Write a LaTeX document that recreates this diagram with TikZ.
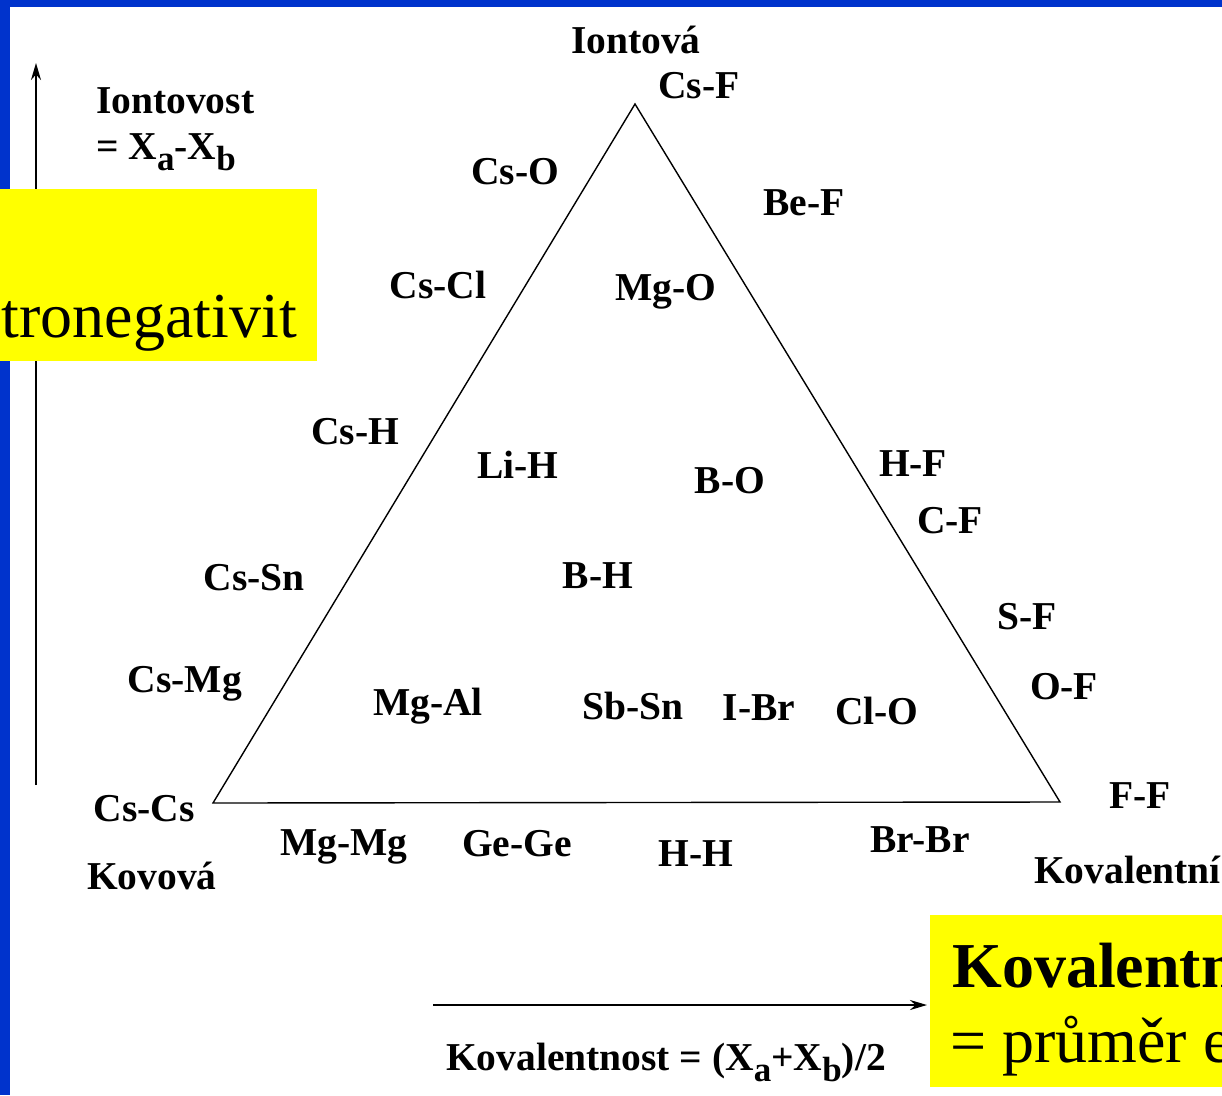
\documentclass[tikz,border=0pt]{standalone}
\usepackage{fontspec}
\setmainfont{Liberation Serif}
\usetikzlibrary{arrows.meta}
\definecolor{bord}{RGB}{0,51,204}
\definecolor{hl}{RGB}{255,255,0}
\newcommand{\lowsub}[1]{\raisebox{-0.28em}{\fontsize{35}{35}\selectfont #1}}
\begin{document}
\begin{tikzpicture}[x=1pt,y=-1pt,
  lab/.style={font=\fontsize{39.5}{40}\selectfont\bfseries, inner sep=0pt, text height=0.66em, text depth=0pt, yshift=-9pt},
  big/.style={font=\fontsize{64}{66}\selectfont, inner sep=0pt},
  arr/.style={line width=2pt, -{Stealth[length=17pt,width=10pt]}},
  tri/.style={line width=1.4pt, line join=miter}]
\clip (0,0) rectangle (1222,1095);
\fill[white] (0,0) rectangle (1222,1095);
% blue frame
\fill[bord] (0,0) rectangle (1222,7);
\fill[bord] (0,0) rectangle (10,1095);
% axes
\coordinate (vy0) at (36,785);
\coordinate (vy1) at (36,63);
\draw[arr] (vy0) -- (vy1);
\coordinate (hx0) at (433,1005);
\coordinate (hx1) at (927,1005);
\draw[arr] (hx0) -- (hx1);
% triangle
\coordinate (top) at (635,104);
\coordinate (bl) at (213,803);
\coordinate (br) at (1060,802);
\draw[tri] (top) -- (bl) -- (br) -- cycle;
% labels
\node[lab] (iontova) at (636,41) {Iontová};
\node[lab] (csf) at (699,86) {Cs-F};
\node[lab, anchor=west] (iontovost) at (96,101) {Iontovost};
\node[lab, anchor=west] (xaxb) at (96,147) {= X\lowsub{a}-X\lowsub{b}};
\node[lab] (cso) at (515,172) {Cs-O};
\node[lab] (bef) at (804,203) {Be-F};
\node[lab] (cscl) at (438,286) {Cs-Cl};
\node[lab] (mgo) at (666,288) {Mg-O};
\node[lab] (csh) at (355,432) {Cs-H};
\node[lab] (lih) at (518,466) {Li-H};
\node[lab] (bo) at (730,481) {B-O};
\node[lab] (hf) at (913,464) {H-F};
\node[lab] (cf) at (950,521) {C-F};
\node[lab] (cssn) at (254,578) {Cs-Sn};
\node[lab] (bh) at (598,576) {B-H};
\node[lab] (sf) at (1027,617) {S-F};
\node[lab] (csmg) at (185,680) {Cs-Mg};
\node[lab] (of) at (1064,687) {O-F};
\node[lab] (mgal) at (428,703) {Mg-Al};
\node[lab] (sbsn) at (633,707) {Sb-Sn};
\node[lab] (ibr) at (759,708) {I-Br};
\node[lab] (clo) at (877,712) {Cl-O};
\node[lab] (cscs) at (144,809) {Cs-Cs};
\node[lab] (ff) at (1140,796) {F-F};
\node[lab] (mgmg) at (344,843) {Mg-Mg};
\node[lab] (gege) at (517,844) {Ge-Ge};
\node[lab] (hh) at (696,854) {H-H};
\node[lab] (brbr) at (920,840) {Br-Br};
\node[lab] (kovova) at (152,877) {Kovová};
\node[lab, anchor=west] (kovalentni) at (1034,871) {Kovalentní};
\node[lab] (kovalentnost) at (666,1058) {Kovalentnost = (X\lowsub{a}+X\lowsub{b})/2};
% yellow boxes
\fill[hl] (0,189) rectangle (317,361);
\node[big, anchor=base east] (elneg) at (297,337) {tronegativit};
\fill[hl] (930,915) rectangle (1230,1087);
\node[big, anchor=base west, font=\fontsize{64}{66}\selectfont\bfseries] (kov1) at (952,987) {Kovalentn};
\node[big, anchor=base west] (kov2) at (950,1062) {= průměr e};
\end{tikzpicture}
\end{document}
